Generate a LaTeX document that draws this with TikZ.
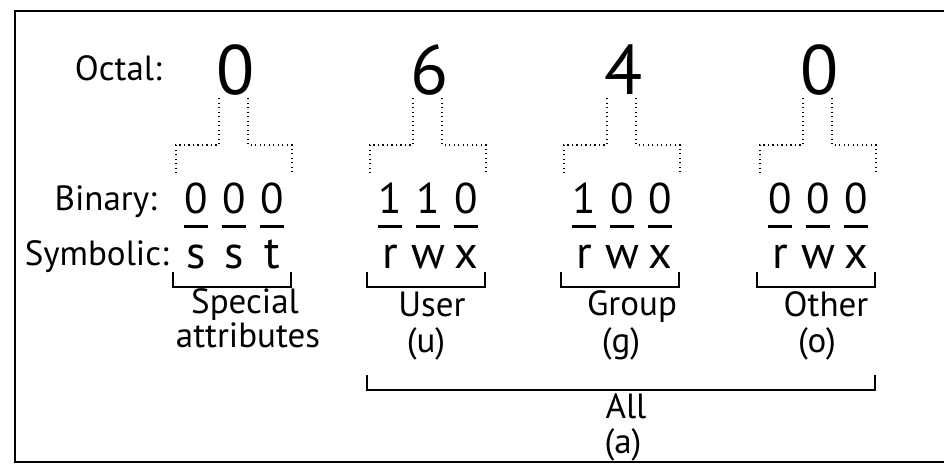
\documentclass[tikz,border=0pt]{standalone}
\usepackage{fontspec}
\setmainfont{PT Sans}
\begin{document}
\begin{tikzpicture}[x=1pt,y=-1pt,
  lbl/.style={font=\fontsize{35}{35}\selectfont, anchor=base east, inner sep=0},
  oct/.style={font=\fontsize{70}{70}\selectfont, anchor=base, inner sep=0},
  bit/.style={font=\fontsize{43}{43}\selectfont, anchor=base, inner sep=0},
  sym/.style={font=\fontsize{46}{46}\selectfont, anchor=base, inner sep=0},
  capt/.style={font=\fontsize{35}{35}\selectfont, anchor=base, inner sep=0},
  dotline/.style={line width=1.3pt, dash pattern=on 1.3pt off 3.2pt},
  bar/.style={line width=3pt},
  brk/.style={line width=1.6pt, line join=miter}]
\useasboundingbox (0,0) rectangle (944,466);
\draw[line width=1.6pt] (960,11) -- (15,11) -- (15,462) -- (960,462);

\node[lbl] (octal) at (162,80) {Octal:};
\node[lbl] (binary) at (157,210) {Binary:};
\node[lbl] (symbolic) at (169,265) {Symbolic:};

\foreach \c/\d/\ba/\bb/\bc/\sa/\sb/\sc/\n in
  {234/0/0/0/0/s/s/t/1, 428/6/1/1/0/r/w/x/2, 622/4/1/0/0/r/w/x/3, 818/0/0/0/0/r/w/x/4} {
  \node[oct] (o\n) at (\c+2,94) {\d};
  \node[bit] (b\n a) at (\c-38,213) {\ba};
  \node[bit] (b\n b) at (\c,213) {\bb};
  \node[bit] (b\n c) at (\c+38,213) {\bc};
  \node[sym] (s\n a) at (\c-38,268) {\sa};
  \node[sym] (s\n b) at (\c,268) {\sb};
  \node[sym] (s\n c) at (\c+38,268) {\sc};
  \foreach \k in {a,b,c} {
    \draw[bar] ([xshift=-12pt,yshift=-13pt]b\n \k.base) -- ++(24,0);
  }
  \coordinate (dla\n) at (\c-15,98);
  \coordinate (dlb\n) at (\c-58,145);
  \coordinate (dlc\n) at (\c-58,175);
  \coordinate (dra\n) at (\c+14,98);
  \coordinate (drb\n) at (\c+58,145);
  \coordinate (drc\n) at (\c+58,175);
  \draw[dotline] (dla\n) |- (dlb\n) -- (dlc\n);
  \draw[dotline] (dra\n) |- (drb\n) -- (drc\n);
  \coordinate (bl\n) at (\c-61,272);
  \coordinate (br\n) at (\c+57,272);
  \draw[brk] (bl\n) -- ++(0,15) -| (br\n);
}

\node[capt] (spec) at (245,313) {Special};
\node[capt] (attr) at (248,347) {attributes};
\node[capt] (user) at (432,316) {User};
\node[capt] (uu) at (426,352) {(u)};
\node[capt] (grp) at (632,315) {Group};
\node[capt] (gg) at (621,352) {(g)};
\node[capt] (oth) at (826,316) {Other};
\node[capt] (oo) at (817,352) {(o)};

\coordinate (alll) at (367,375);
\coordinate (allr) at (875,375);
\draw[brk] (alll) -- ++(0,15) -| (allr);
\node[capt] (all) at (626,418) {All};
\node[capt] (aa) at (623,453) {(a)};
\end{tikzpicture}
\end{document}
